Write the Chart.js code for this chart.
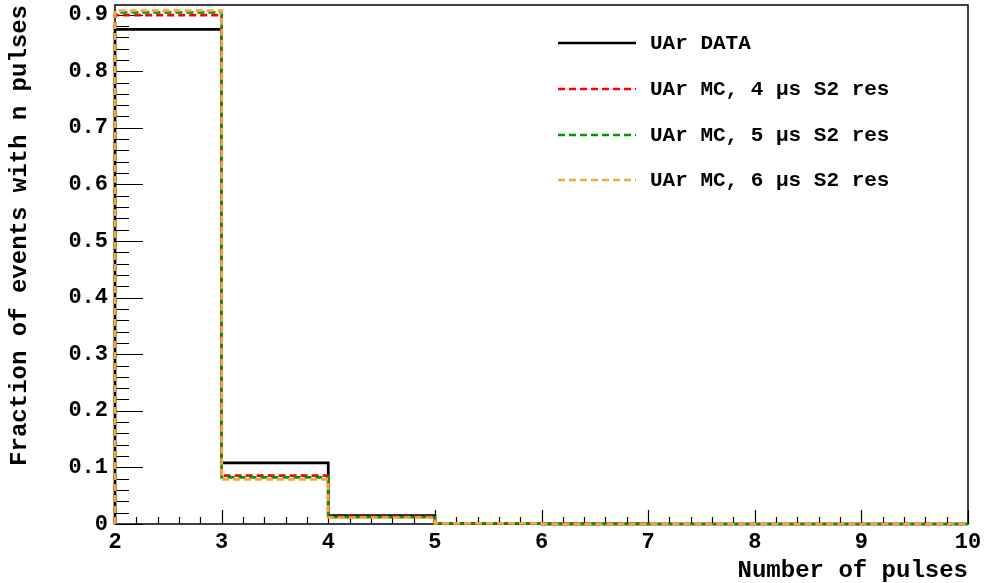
<!DOCTYPE html>
<html>
<head>
<meta charset="utf-8">
<title>Number of pulses</title>
<script src="https://cdn.jsdelivr.net/npm/chart.js@4.4.0/dist/chart.umd.min.js"></script>
<style>
  body { margin: 0; background: #fff; }
  canvas { display: block; }
</style>
</head>
<body>
<canvas id="chart" width="984" height="583"></canvas>
<script>
// bin edges of the histogram (number of pulses)
const binEdges = [2, 3, 4, 5, 6, 7, 8, 9, 10];
const xTicks = [2, 3, 4, 5, 6, 7, 8, 9, 10];
const yTicks = [0, 0.1, 0.2, 0.3, 0.4, 0.5, 0.6, 0.7, 0.8, 0.9];

const seriesLabels = [
  "UAr DATA",
  "UAr MC, 4 μs S2 res",
  "UAr MC, 5 μs S2 res",
  "UAr MC, 6 μs S2 res",
];

// fraction of events per bin (2,3,4,...,9)
const dataValues = [0.874, 0.108, 0.0147, 0.0010, 0.0002, 0, 0, 0];
const mc4Values = [0.899, 0.0853, 0.0130, 0.0012, 0.0002, 0, 0, 0];
const mc5Values = [0.904, 0.0825, 0.0122, 0.0012, 0.0002, 0, 0, 0];
const mc6Values = [0.907, 0.0790, 0.0115, 0.0012, 0.0002, 0, 0, 0];

const FONT = '"Liberation Mono", "Courier New", monospace';

// turn bin contents into an outline: up from 0 at first edge, down to 0 at last
function histOutline(values) {
  const pts = [{ x: binEdges[0], y: 0 }];
  values.forEach((v, i) => pts.push({ x: binEdges[i], y: v }));
  const last = binEdges[binEdges.length - 1];
  pts.push({ x: last, y: values[values.length - 1] });
  pts.push({ x: last, y: 0 });
  return pts;
}

function histDataset(label, values, color, dash, order) {
  return {
    label: label,
    data: histOutline(values),
    borderColor: color,
    borderWidth: 2.7,
    borderDash: dash,
    stepped: true,
    pointRadius: 0,
    fill: false,
    clip: false,
    order: order,
  };
}

const framePlugin = {
  id: "rootFrame",
  beforeDatasetsDraw(chart) {
    const { ctx, chartArea: a, scales } = chart;
    const x = scales.x, y = scales.y;
    ctx.save();
    ctx.strokeStyle = "#000";
    ctx.lineWidth = 1.5;
    ctx.strokeRect(a.left, a.top, a.right - a.left, a.bottom - a.top);
    ctx.lineWidth = 1.2;
    ctx.beginPath();
    // x ticks pointing in
    for (let k = 0; k <= 40; k++) {
      const v = x.min + k * 0.2;
      const px = Math.round(x.getPixelForValue(v)) + 0.5;
      const len = k % 5 === 0 ? 14 : 7;
      ctx.moveTo(px, a.bottom);
      ctx.lineTo(px, a.bottom - len);
    }
    // y ticks pointing in
    for (let k = 0; k * 0.02 <= y.max; k++) {
      const py = Math.round(y.getPixelForValue(k * 0.02)) + 0.5;
      const len = k % 5 === 0 ? 28 : 14;
      ctx.moveTo(a.left, py);
      ctx.lineTo(a.left + len, py);
    }
    ctx.stroke();
    ctx.restore();
  },
  afterDraw(chart) {
    const { ctx } = chart;
    ctx.save();
    ctx.font = "bold 21px " + FONT;
    ctx.textBaseline = "middle";
    ctx.textAlign = "left";
    const rows = [43, 89, 135, 180];
    chart.data.datasets.forEach((ds, i) => {
      const yy = rows[i];
      ctx.strokeStyle = ds.borderColor;
      ctx.lineWidth = ds.borderWidth;
      ctx.setLineDash(ds.borderDash || []);
      ctx.beginPath();
      ctx.moveTo(558, yy);
      ctx.lineTo(636, yy);
      ctx.stroke();
      ctx.setLineDash([]);
      ctx.fillStyle = "#000";
      ctx.fillText(ds.label, 650, yy + 1);
    });
    ctx.restore();
  },
};

new Chart(document.getElementById("chart"), {
  type: "line",
  data: {
    datasets: [
      histDataset(seriesLabels[0], dataValues, "#000000", [], 4),
      histDataset(seriesLabels[1], mc4Values, "#ff0000", [7, 4], 3),
      histDataset(seriesLabels[2], mc5Values, "#009a00", [7, 4], 2),
      histDataset(seriesLabels[3], mc6Values, "#f7a445", [7, 4], 1),
    ],
  },
  options: {
    responsive: false,
    animation: false,
    layout: { padding: { top: 5, right: 16, left: 0, bottom: 0 } },
    plugins: { legend: { display: false }, tooltip: { enabled: false } },
    scales: {
      x: {
        type: "linear",
        min: 2,
        max: 10,
        afterBuildTicks: (s) => { s.ticks = xTicks.map((v) => ({ value: v })); },
        afterFit: (s) => { s.height = 59; s.paddingLeft = 0; s.paddingRight = 0; },
        grid: { display: false, drawTicks: false },
        border: { display: false },
        ticks: {
          padding: 5,
          color: "#000",
          font: { family: FONT, size: 22, weight: "bold" },
          callback: (v) => String(v),
        },
        title: {
          display: true,
          text: "Number of pulses",
          align: "end",
          color: "#000",
          font: { family: FONT, size: 24, weight: "bold", lineHeight: 1 },
          padding: { top: 0, bottom: 0 },
        },
      },
      y: {
        min: 0,
        max: 0.917,
        afterBuildTicks: (s) => { s.ticks = yTicks.map((v) => ({ value: v })); },
        afterFit: (s) => { s.width = 115; s.paddingTop = 0; s.paddingBottom = 0; },
        grid: { display: false, drawTicks: false },
        border: { display: false },
        ticks: {
          padding: 7,
          color: "#000",
          font: { family: FONT, size: 22, weight: "bold" },
          callback: (v) => (v === 0 ? "0" : v.toFixed(1)),
        },
        title: {
          display: true,
          text: "Fraction of events with n pulses",
          align: "end",
          color: "#000",
          font: { family: FONT, size: 24, weight: "bold", lineHeight: 1 },
          padding: { top: 8, bottom: 0 },
        },
      },
    },
  },
  plugins: [framePlugin],
});
</script>
</body>
</html>
